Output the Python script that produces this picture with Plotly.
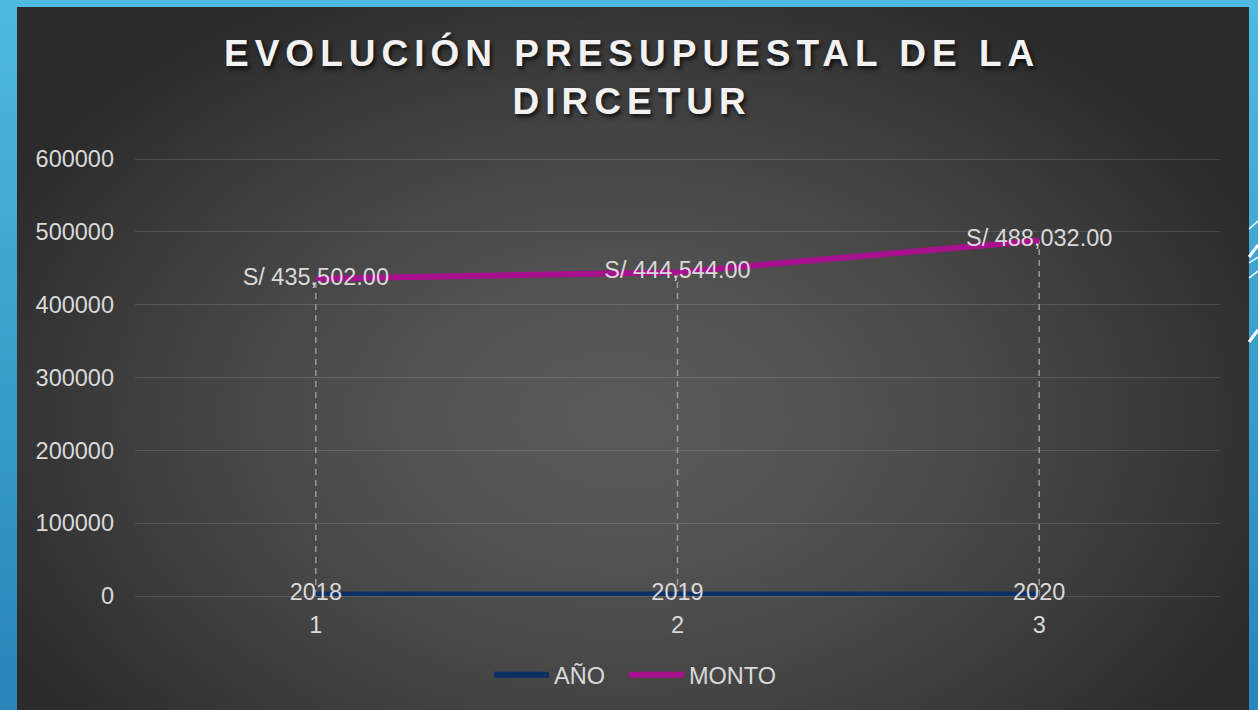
import base64
import struct
import zlib

import plotly.graph_objects as go

# ---------------- data ----------------
categories = [1, 2, 3]
anio = [2018, 2019, 2020]
monto = [435502, 444544, 488032]
y_ticks = [0, 100000, 200000, 300000, 400000, 500000, 600000]
title_lines = ["EVOLUCIÓN PRESUPUESTAL DE LA", "DIRCETUR"]

# ---------------- geometry helpers (styling only) ----------------
W, H = 1258, 710
ML, MR, MT, MB = 135, 38, 157, 114
PW, PH = W - ML - MR, H - MT - MB
Y_MAX = 600000 * PH / 437  # so that 600000 sits 2px below the top edge


def px(x):
    return (x - ML) / PW


def py(y):
    return 1 - (y - MT) / PH


def png_uri(w, h, fn):
    rows = []
    for j in range(h):
        row = bytearray([0])
        for i in range(w):
            row.extend(fn(i, j))
        rows.append(bytes(row))
    raw = b"".join(rows)

    def chunk(tag, data):
        c = struct.pack(">I", len(data)) + tag + data
        return c + struct.pack(">I", zlib.crc32(tag + data) & 0xFFFFFFFF)

    png = b"\x89PNG\r\n\x1a\n"
    png += chunk(b"IHDR", struct.pack(">IIBBBBB", w, h, 8, 2, 0, 0, 0))
    png += chunk(b"IDAT", zlib.compress(raw, 9))
    png += chunk(b"IEND", b"")
    return "data:image/png;base64," + base64.b64encode(png).decode()


# blue slide background (vertical gradient)
top_c, bot_c = (78, 186, 223), (40, 133, 186)


def blue(i, j, h=64):
    t = j / (h - 1)
    return bytes(int(a + (b - a) * t) for a, b in zip(top_c, bot_c))


blue_img = png_uri(4, 64, blue)

# dark chart-area background (radial gradient)
BX0, BY0, BX1, BY1 = 17, 7, 1249, 710
GW, GH = 154, 88
CX, CY, RX, RY = 620, 420, 700, 480


def dark(i, j):
    x = BX0 + (i + 0.5) / GW * (BX1 - BX0)
    y = BY0 + (j + 0.5) / GH * (BY1 - BY0)
    r = (((x - CX) / RX) ** 2 + ((y - CY) / RY) ** 2) ** 0.5
    r = min(r, 1.0)
    f = r ** 1.5
    v = int(90 - (90 - 43) * f)
    return bytes((v, v, v))


dark_img = png_uri(GW, GH, dark)

FONT = "Liberation Sans, Arial, sans-serif"
TXT = "#d9d9d9"
FS = 23.5

fig = go.Figure()

# dashed drop lines from each point down to 0
drop_x, drop_y = [], []
for c, v in zip(categories, monto):
    drop_x += [c, c, None]
    drop_y += [0, v, None]
fig.add_trace(go.Scatter(
    x=drop_x, y=drop_y, mode="lines", showlegend=False, hoverinfo="skip",
    line=dict(color="#9a9a9a", width=1.5, dash="6px,5px"),
))

fig.add_trace(go.Scatter(
    x=categories, y=anio, name="AÑO", mode="lines+text", legend="legend",
    text=[str(a) for a in anio], textposition="middle center",
    textfont=dict(family=FONT, size=FS, color=TXT), cliponaxis=False,
    line=dict(color="#0b3068", width=6),
))

fig.add_trace(go.Scatter(
    x=categories, y=monto, name="MONTO", mode="lines+text", legend="legend2",
    text=[f"S/ {v:,.2f}" for v in monto], textposition="middle center",
    textfont=dict(family=FONT, size=FS, color=TXT), cliponaxis=False,
    line=dict(color="#a8108e", width=6),
))

title_html = "<br>".join(
    f'<span style="letter-spacing:6px">{t}</span>' for t in title_lines
)

shapes = []
# white diagonal slide decorations on the right edge
for (x0, y0, x1, y1, w) in [
    (1249, 229, 1258, 221, 1.5),
    (1249, 257, 1258, 245, 3),
    (1249, 263, 1258, 257, 1.5),
    (1249, 278, 1258, 271, 1.5),
    (1249, 342, 1258, 330, 3),
]:
    shapes.append(dict(type="line", xref="paper", yref="paper",
                       x0=px(x0), y0=py(y0), x1=px(x1), y1=py(y1),
                       line=dict(color="white", width=w), layer="below"))

legend_common = dict(
    orientation="h", xanchor="left", y=py(675), yanchor="middle",
    font=dict(family=FONT, size=FS, color=TXT), itemwidth=55,
    bgcolor="rgba(0,0,0,0)",
)

fig.update_layout(
    width=W, height=H,
    margin=dict(l=ML, r=MR, t=MT, b=MB, pad=0),
    paper_bgcolor="#3f9fd0",
    plot_bgcolor="rgba(0,0,0,0)",
    font=dict(family=FONT, size=FS, color=TXT),
    showlegend=True,
    legend=dict(x=px(489), **legend_common),
    legend2=dict(x=px(624), **legend_common),
    xaxis=dict(
        range=[0.5, 3.5], tickvals=categories, ticktext=[str(c) for c in categories],
        showgrid=False, zeroline=False, showline=False, ticks="",
        tickfont=dict(family=FONT, size=FS, color=TXT), ticklabelstandoff=12,
    ),
    yaxis=dict(
        range=[0, Y_MAX], tickvals=y_ticks, ticktext=[str(t) for t in y_ticks],
        showgrid=True, gridcolor="rgba(255,255,255,0.13)", gridwidth=1.3,
        zeroline=True, zerolinecolor="rgba(255,255,255,0.13)", zerolinewidth=1.3,
        showline=False, ticks="",
        tickfont=dict(family=FONT, size=FS, color=TXT), ticklabelstandoff=20,
    ),
    images=[
        dict(source=blue_img, xref="paper", yref="paper", x=px(0), y=py(0),
             sizex=W / PW, sizey=H / PH, sizing="stretch",
             xanchor="left", yanchor="top", layer="below"),
        dict(source=dark_img, xref="paper", yref="paper", x=px(BX0), y=py(BY0),
             sizex=(BX1 - BX0) / PW, sizey=(BY1 - BY0) / PH, sizing="stretch",
             xanchor="left", yanchor="top", layer="below"),
    ],
    shapes=shapes,
    annotations=[dict(
        text=title_html, xref="paper", yref="paper", x=px(632), y=py(77.5),
        xanchor="center", yanchor="middle", showarrow=False, align="center",
        font=dict(family=FONT, size=37, color="#f2f2f2", weight="bold",
                  shadow="2px 3px 4px rgba(0,0,0,0.75)"),
    )],
)

fig.write_html(
    "out.html",
    config={"displayModeBar": False},
    post_script="document.body.style.margin='0';document.body.style.background='#3f9fd0';",
)
